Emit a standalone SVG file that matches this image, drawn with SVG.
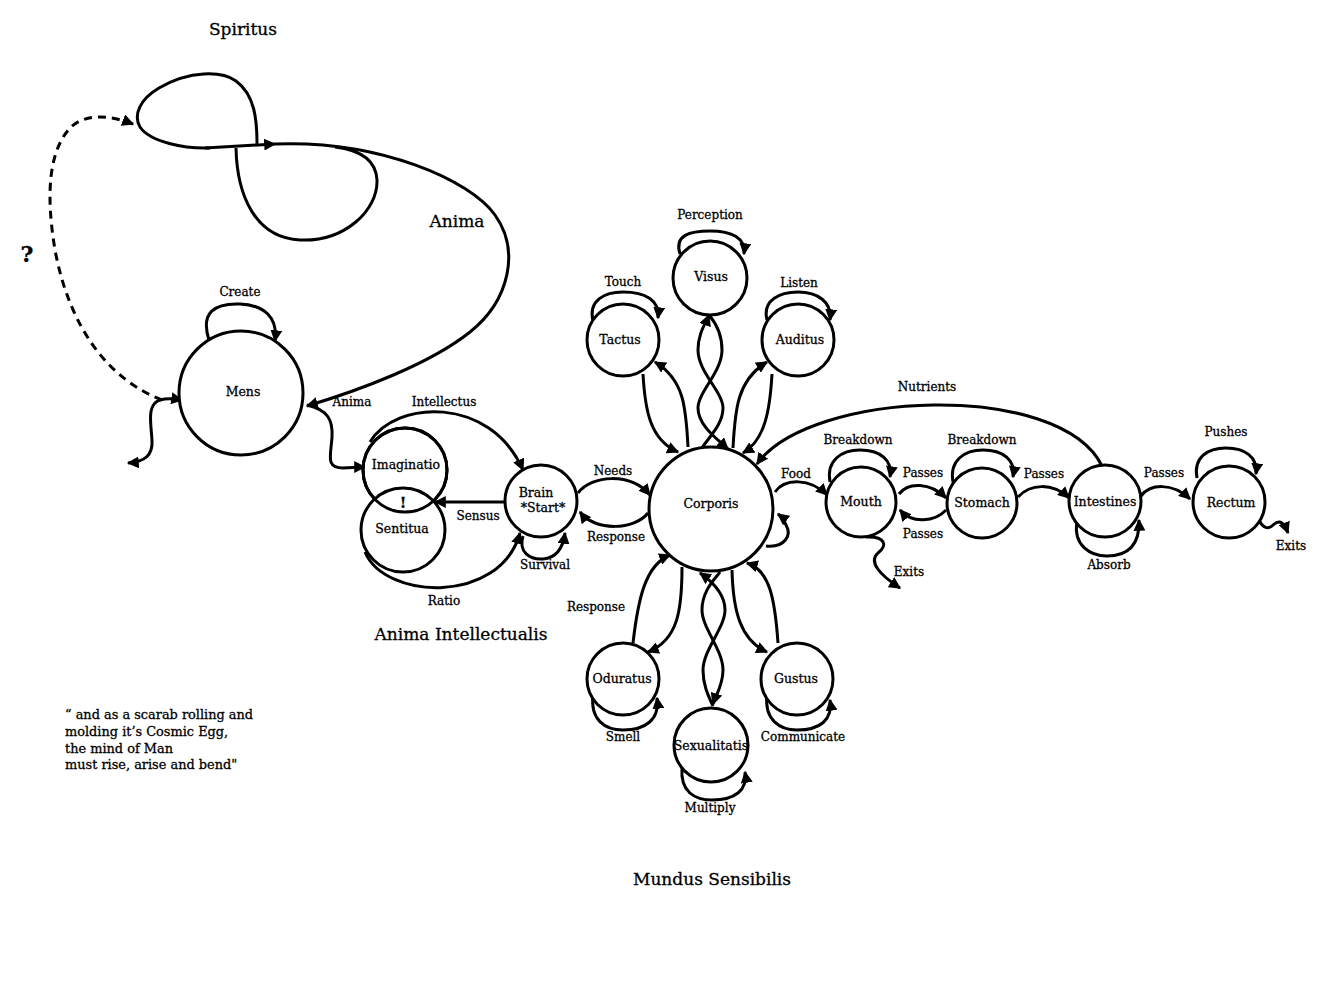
<svg xmlns="http://www.w3.org/2000/svg" width="1333" height="1000" viewBox="0 0 1333 1000">
<defs>
<marker id="ah" viewBox="0 0 10 10" refX="9" refY="5" markerWidth="12" markerHeight="12" markerUnits="userSpaceOnUse" orient="auto-start-reverse">
<path d="M0,0 L10,5 L0,10 z" fill="#000"/>
</marker>
<style>
.n{fill:#fff;stroke:#000;stroke-width:3}
.e{fill:none;stroke:#000;stroke-width:3;marker-end:url(#ah)}
.p{fill:none;stroke:#000;stroke-width:3}
.d{fill:none;stroke:#000;stroke-width:3;stroke-dasharray:8 6;marker-end:url(#ah)}
text{font-family:"DejaVu Serif","Liberation Serif",serif;fill:#000;stroke:#000;stroke-width:0.3;text-anchor:middle}
.nl{font-size:12.5px}
.el{font-size:12px}
.big{font-size:17px}
.q{font-size:12.9px;text-anchor:start}
</style>
</defs>
<rect width="1333" height="1000" fill="#fff"/>

<g id="connectors">
<path class="p" d="M257,144 C257,120 255,95 236,81 C222,71 190,70 159,88 C140,99 133,115 140,127 C150,142 185,149 210,148"/>
<path class="e" d="M205,148 L275,144"/>
<path class="p" d="M236,148 C237,195 255,238 300,240 C345,242 378,210 377,180 C376,160 360,150 335,147"/>
<path class="e" d="M275,144 C380,140 470,180 495,215 C520,250 510,300 470,332 C430,364 360,390 307,406"/>
<path class="d" d="M162,400 C110,380 70,330 55,250 C45,190 50,150 70,128 C85,113 110,115 133,124"/>
<path class="e" style="marker-start:url(#ah)" d="M128,463 C145,462 153,455 152,440 C151,425 148,410 155,403 C160,398 170,398 182,400"/>
<path class="e" d="M209,340 C200,312 215,303 240,304 C265,305 278,318 275,341"/>
<path class="e" d="M307,405 C328,410 333,420 332,437 C331,455 325,468 343,468 C350,468 357,467 365,467"/>
<path class="e" d="M370,442 C395,400 490,395 523,470"/>
<path class="e" d="M505,502 L435,502"/>
<path class="e" d="M365,552 C385,600 500,605 520,533"/>
<path class="e" d="M523,536 C518,552 530,560 543,559 C556,558 563,548 565,533"/>
<path class="e" d="M578,493 C592,475 630,472 650,495"/>
<path class="e" d="M648,513 C635,530 595,532 580,512"/>
<path class="e" d="M643,374 C645,410 650,440 678,452"/>
<path class="e" d="M688,447 C686,410 685,380 655,362"/>
<path class="e" d="M772,374 C770,410 765,440 743,453"/>
<path class="e" d="M733,448 C735,410 737,380 767,362"/>
<path class="e" d="M702,448 C708,438 723,425 723,408 C723,392 698,372 698,350 C698,333 706,323 709,315"/>
<path class="e" d="M709,315 C715,322 722,333 722,350 C722,372 698,392 698,408 C698,425 716,438 728,449"/>
<path class="e" d="M593,321 C588,300 605,292 623,292 C645,292 660,300 658,318"/>
<path class="e" d="M680,254 C674,235 690,231 710,231 C732,231 746,238 744,254"/>
<path class="e" d="M767,320 C762,300 780,292 798,292 C818,292 832,302 830,320"/>
<path class="e" d="M633,643 C638,600 645,565 670,555"/>
<path class="e" d="M682,567 C682,610 678,640 648,652"/>
<path class="e" d="M778,643 C775,600 770,570 747,563"/>
<path class="e" d="M732,570 C733,610 740,640 767,652"/>
<path class="e" d="M720,572 C716,578 702,590 702,610 C702,628 723,650 723,670 C723,685 716,695 713,704"/>
<path class="e" d="M713,706 C708,695 703,685 703,670 C703,650 725,628 725,610 C725,592 710,580 700,573"/>
<path class="e" d="M593,695 C590,720 605,730 623,730 C645,730 660,720 657,698"/>
<path class="e" d="M767,695 C764,720 780,730 797,730 C820,730 833,720 830,700"/>
<path class="e" d="M682,768 C680,792 695,800 712,800 C735,800 748,790 745,772"/>
<path class="e" d="M766,546 C785,548 792,535 786,525 C784,520 782,517 778,514"/>
<path class="e" d="M775,492 C785,478 810,478 827,495"/>
<path class="e" d="M1102,466 C1060,380 810,390 757,464"/>
<path class="e" d="M830,482 C826,460 842,450 860,450 C880,450 893,460 890,477"/>
<path class="e" d="M953,482 C949,460 965,450 983,450 C1003,450 1016,460 1013,477"/>
<path class="e" d="M1197,478 C1193,457 1208,448 1226,448 C1245,448 1258,457 1256,474"/>
<path class="e" d="M1077,522 C1073,545 1090,556 1107,556 C1128,556 1140,545 1139,520"/>
<path class="e" d="M899,494 C908,482 930,482 946,498"/>
<path class="e" d="M946,510 C935,522 912,524 900,510"/>
<path class="e" d="M1018,497 C1030,484 1052,482 1069,498"/>
<path class="e" d="M1141,496 C1150,484 1172,482 1190,499"/>
<path class="e" d="M866,537 C885,536 888,545 878,553 C868,562 880,575 900,588"/>
<path class="e" d="M1259,520 C1263,528 1268,530 1273,525 C1278,520 1283,520 1288,533"/>
</g>

<g id="mens"><circle class="n" cx="241" cy="393" r="62"/><text class="nl" x="243" y="396">Mens</text></g>
<g id="imaginatio"><circle class="n" cx="405" cy="470" r="42"/></g>
<g id="sentitua"><circle class="n" cx="403" cy="530" r="42"/><circle cx="405" cy="470" r="42" fill="none" stroke="#000" stroke-width="3"/><text class="nl" x="406" y="469">Imaginatio</text><text class="nl" x="402" y="533">Sentitua</text></g>
<g id="brain"><circle class="n" cx="541" cy="501" r="36"/><text class="nl" x="536" y="497">Brain</text><text class="nl" x="543" y="512">*Start*</text></g>
<g id="corporis"><circle class="n" cx="711" cy="509" r="62"/><text class="nl" x="711" y="508">Corporis</text></g>
<g id="visus"><circle class="n" cx="710" cy="278" r="37"/><text class="nl" x="711" y="281">Visus</text></g>
<g id="tactus"><circle class="n" cx="623" cy="340" r="36"/><text class="nl" x="620" y="344">Tactus</text></g>
<g id="auditus"><circle class="n" cx="798" cy="340" r="36"/><text class="nl" x="800" y="344">Auditus</text></g>
<g id="oduratus"><circle class="n" cx="623" cy="679" r="36"/><text class="nl" x="622" y="683">Oduratus</text></g>
<g id="gustus"><circle class="n" cx="797" cy="679" r="36"/><text class="nl" x="796" y="683">Gustus</text></g>
<g id="sexualitatis"><circle class="n" cx="711" cy="745" r="37"/><text class="nl" x="711" y="750">Sexualitatis</text></g>
<g id="mouth"><circle class="n" cx="861" cy="502" r="35"/><text class="nl" x="861" y="506">Mouth</text></g>
<g id="stomach"><circle class="n" cx="982" cy="503" r="35"/><text class="nl" x="982" y="507">Stomach</text></g>
<g id="intestines"><circle class="n" cx="1105" cy="501" r="36"/><text class="nl" x="1105" y="506">Intestines</text></g>
<g id="rectum"><circle class="n" cx="1229" cy="502" r="36"/><text class="nl" x="1231" y="507">Rectum</text></g>

<g id="labels">
<text class="big" x="243" y="35">Spiritus</text>
<text class="big" x="457" y="227">Anima</text>
<text x="27" y="262" style="font-size:22px;font-weight:bold">?</text>
<text x="403" y="508" style="font-size:15px;font-weight:bold">!</text>
<text class="big" x="461" y="640">Anima Intellectualis</text>
<text class="big" x="712" y="885">Mundus Sensibilis</text>
<text class="el" x="240" y="296">Create</text>
<text class="el" x="352" y="406">Anima</text>
<text class="el" x="444" y="406">Intellectus</text>
<text class="el" x="478" y="520">Sensus</text>
<text class="el" x="444" y="605">Ratio</text>
<text class="el" x="545" y="569">Survival</text>
<text class="el" x="613" y="475">Needs</text>
<text class="el" x="616" y="541">Response</text>
<text class="el" x="596" y="611">Response</text>
<text class="el" x="623" y="286">Touch</text>
<text class="el" x="710" y="219">Perception</text>
<text class="el" x="799" y="287">Listen</text>
<text class="el" x="623" y="741">Smell</text>
<text class="el" x="803" y="741">Communicate</text>
<text class="el" x="710" y="812">Multiply</text>
<text class="el" x="796" y="478">Food</text>
<text class="el" x="927" y="391">Nutrients</text>
<text class="el" x="858" y="444">Breakdown</text>
<text class="el" x="982" y="444">Breakdown</text>
<text class="el" x="923" y="477">Passes</text>
<text class="el" x="923" y="538">Passes</text>
<text class="el" x="1044" y="478">Passes</text>
<text class="el" x="1164" y="477">Passes</text>
<text class="el" x="1226" y="436">Pushes</text>
<text class="el" x="1109" y="569">Absorb</text>
<text class="el" x="909" y="576">Exits</text>
<text class="el" x="1291" y="550">Exits</text>
<text class="q" x="65" y="719">“ and as a scarab rolling and</text>
<text class="q" x="65" y="736">molding it’s Cosmic Egg,</text>
<text class="q" x="65" y="753">the mind of Man</text>
<text class="q" x="65" y="769">must rise, arise and bend"</text>
</g>
</svg>
